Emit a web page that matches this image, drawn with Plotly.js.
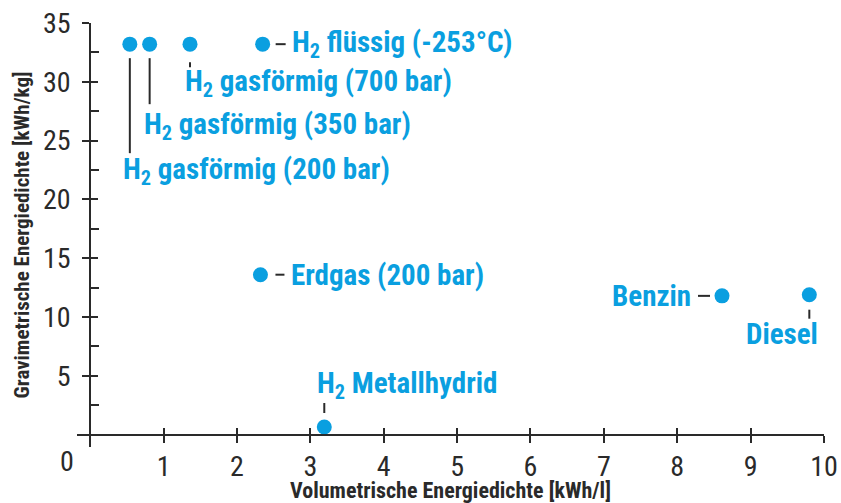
<!DOCTYPE html>
<html><head><meta charset="utf-8">
<script src="https://cdn.plot.ly/plotly-3.0.1.min.js"></script>
<style>html,body{margin:0;padding:0;background:#fff}</style>
</head><body><div id="chart" style="width:841px;height:503px"></div>
<script>
// ---- data ----
const labels = ['H<sub>2</sub> gasförmig (200 bar)', 'H<sub>2</sub> gasförmig (350 bar)', 'H<sub>2</sub> gasförmig (700 bar)', 'H<sub>2</sub> flüssig (-253°C)', 'Erdgas (200 bar)', 'H<sub>2</sub> Metallhydrid', 'Benzin', 'Diesel'];
const volumetric = [0.54, 0.81, 1.36, 2.35, 2.32, 3.19, 8.61, 9.80];   // kWh/l
const gravimetric = [33.2, 33.2, 33.2, 33.2, 13.6, 0.65, 11.8, 11.9]; // kWh/kg
const xTickVals = [1, 2, 3, 4, 5, 6, 7, 8, 9, 10];
const xTickText = ['1', '2', '3', '4', '5', '6', '7', '8', '9', '10'];
const yTickVals = [5, 10, 15, 20, 25, 30, 35];
const yTickText = ['5', '10', '15', '20', '25', '30', '35'];
const yMinorVals = [2.5, 7.5, 12.5, 17.5, 22.5, 27.5, 32.5];
const originLabel = '0';
const xTitle = 'Volumetrische Energiedichte [kWh/l]';
const yTitle = 'Gravimetrische Energiedichte [kWh/kg]';

// ---- style / placement (pixel offsets relative to each point) ----
const BLUE = '#0a9fe0';
const DARK = '#2a2a2a';
const FONT = 'Roboto Condensed, Liberation Sans Narrow, Arial Narrow, sans-serif';
const place = [
  {anchor: 'left',  dx: -9, dy: -127, lx0: 0,   ly0: -14, lx1: 0,   ly1: -109},
  {anchor: 'left',  dx: -8, dy: -82,  lx0: 0,   ly0: -14, lx1: 0,   ly1: -60},
  {anchor: 'left',  dx: -7, dy: -39,  lx0: 0,   ly0: -18, lx1: 0,   ly1: -23},
  {anchor: 'left',  dx: 27, dy: 0,    lx0: 13,  ly0: 0,   lx1: 23,  ly1: 0},
  {anchor: 'left',  dx: 29, dy: 0,    lx0: 15,  ly0: 0,   lx1: 24,  ly1: 0},
  {anchor: 'left',  dx: -9, dy: 42,   lx0: 0,   ly0: 14,  lx1: 0,   ly1: 24},
  {anchor: 'right', dx: -29, dy: 0,   lx0: -24, ly0: 0,   lx1: -12, ly1: 0},
  {anchor: 'right', dx: 11, dy: -39,  lx0: 0,   ly0: -15, lx1: 0,   ly1: -24}
];

const xRange = [-0.18, 10];
const yRange = [-1.05, 35];
const xAxisPos = (0 - yRange[0]) / (yRange[1] - yRange[0]);
const yAxisPos = (0 - xRange[0]) / (xRange[1] - xRange[0]);

const traces = [
  {x: volumetric, y: gravimetric, type: 'scatter', mode: 'markers', text: labels,
   marker: {size: 15, color: BLUE}, hoverinfo: 'x+y', cliponaxis: false},
  {x: volumetric, y: gravimetric, xaxis: 'x2', yaxis: 'y2', type: 'scatter', mode: 'markers',
   marker: {size: 1, opacity: 0}, hoverinfo: 'skip', showlegend: false}
];

const annotations = labels.map((t, i) => ({
  x: volumetric[i], y: gravimetric[i], xref: 'x', yref: 'y', text: t, showarrow: false,
  xanchor: place[i].anchor, yanchor: 'middle', xshift: place[i].dx, yshift: place[i].dy,
  font: {family: FONT, size: 29, color: BLUE, weight: 'bold'}
}));
annotations.push({x: 0, y: 0, xref: 'x', yref: 'y', text: originLabel, showarrow: false,
  xanchor: 'center', yanchor: 'middle', xshift: -23, yshift: -27,
  font: {family: FONT, size: 28, color: DARK}});

const shapes = labels.map((t, i) => ({
  type: 'line', xref: 'x', yref: 'y', xsizemode: 'pixel', ysizemode: 'pixel',
  xanchor: volumetric[i], yanchor: gravimetric[i],
  x0: place[i].lx0, y0: place[i].ly0, x1: place[i].lx1, y1: place[i].ly1,
  line: {color: DARK, width: 2}
}));

const tickFont = {family: FONT, size: 28, color: DARK};
const layout = {
  width: 841, height: 503,
  margin: {l: 77, r: 17, t: 23, b: 56},
  paper_bgcolor: '#fff', plot_bgcolor: '#fff', showlegend: false,
  xaxis: {range: xRange, anchor: 'free', position: xAxisPos, showline: true, linecolor: DARK, linewidth: 2,
    ticks: 'outside', ticklen: 7, tickwidth: 2, tickcolor: DARK, tickmode: 'array', tickvals: xTickVals, ticktext: xTickText,
    tickfont: tickFont, showgrid: false, zeroline: false,
    title: {text: xTitle, standoff: 4, font: {family: FONT, size: 22, color: DARK, weight: 'bold'}}},
  yaxis: {range: yRange, anchor: 'free', position: yAxisPos, showline: true, linecolor: DARK, linewidth: 2,
    ticks: 'outside', ticklen: 7, tickwidth: 2, tickcolor: DARK, tickmode: 'array', tickvals: yTickVals, ticktext: yTickText,
    tickfont: tickFont, ticklabelstandoff: 6, showgrid: false, zeroline: false,
    minor: {tickmode: 'array', tickvals: yMinorVals, ticks: 'inside', ticklen: 8, tickwidth: 2, tickcolor: DARK, showgrid: false},
    title: {text: yTitle, standoff: 7, font: {family: FONT, size: 21, color: DARK, weight: 'bold'}}},
  xaxis2: {range: xRange, overlaying: 'x', anchor: 'free', position: xAxisPos, side: 'bottom', showline: false,
    ticks: 'inside', ticklen: 7, tickwidth: 2, tickcolor: DARK, tickmode: 'array', tickvals: xTickVals,
    showticklabels: false, showgrid: false, zeroline: false},
  yaxis2: {range: yRange, overlaying: 'y', anchor: 'free', position: yAxisPos, side: 'left', showline: false,
    ticks: 'inside', ticklen: 7, tickwidth: 2, tickcolor: DARK, tickmode: 'array', tickvals: yTickVals,
    showticklabels: false, showgrid: false, zeroline: false},
  annotations: annotations,
  shapes: shapes
};

Plotly.newPlot('chart', traces, layout, {displayModeBar: false, staticPlot: true});
</script>
</body></html>
